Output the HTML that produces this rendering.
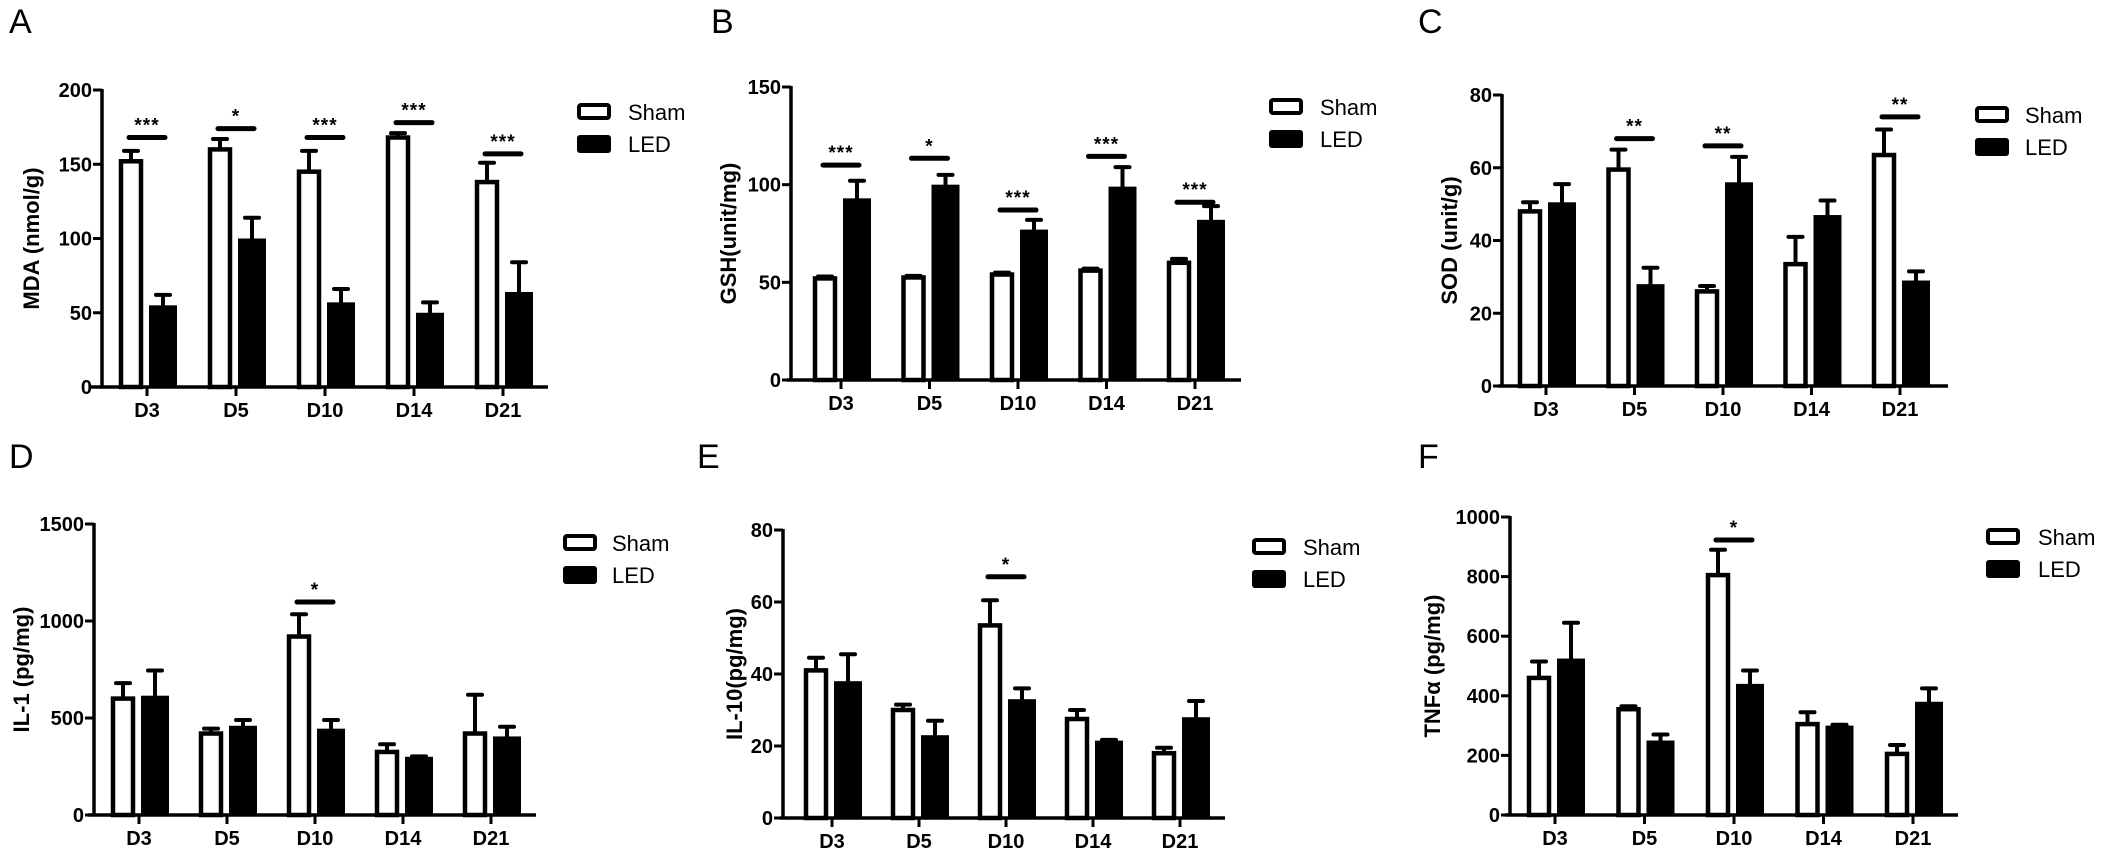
<!DOCTYPE html>
<html><head><meta charset="utf-8"><style>
html,body{margin:0;padding:0;background:#fff;}
svg{display:block;}
text{font-family:"Liberation Sans Narrow","Liberation Sans",sans-serif;fill:#000;}
.tk{font-size:20px;font-weight:bold;}
.yt{font-family:"Liberation Sans",sans-serif;font-size:22px;font-weight:bold;}
.lg{font-size:22px;}
.pl{font-family:"Liberation Sans",sans-serif;font-size:34px;}
.st{font-family:"Liberation Sans",sans-serif;font-size:19px;font-weight:bold;}
</style></head><body>
<svg id="fig" width="2105" height="853" viewBox="0 0 2105 853" xmlns="http://www.w3.org/2000/svg"></svg>
<script>
var categories=["D3","D5","D10","D14","D21"];
// Panel A MDA
var aSham=[152,160,145,168,138], aShamErr=[7,7,14,3,13];
var aLed=[55,100,57,50,64], aLedErr=[7,14,9,7,20];
var aTicks=[0,50,100,150,200];
var aSig=[{i:0,v:168,t:"***"},{i:1,v:174,t:"*"},{i:2,v:168,t:"***"},{i:3,v:178,t:"***"},{i:4,v:157,t:"***"}];
// Panel B GSH
var bSham=[52,52.5,54,56,60], bShamErr=[1,0.8,1,1,2];
var bLed=[93,100,77,99,82], bLedErr=[9,5,5,10,7];
var bTicks=[0,50,100,150];
var bSig=[{i:0,v:110,t:"***"},{i:1,v:113.5,t:"*"},{i:2,v:87,t:"***"},{i:3,v:114.5,t:"***"},{i:4,v:91,t:"***"}];
// Panel C SOD
var cSham=[48,59.5,26,33.5,63.5], cShamErr=[2.5,5.5,1.5,7.5,7];
var cLed=[50.5,28,56,47,29], cLedErr=[5,4.5,7,4,2.5];
var cTicks=[0,20,40,60,80];
var cSig=[{i:1,v:68,t:"**"},{i:2,v:66,t:"**"},{i:4,v:74,t:"**"}];
// Panel D IL-1
var dSham=[600,420,920,325,420], dShamErr=[80,25,115,40,200];
var dLed=[615,460,445,300,405], dLedErr=[130,30,45,2,50];
var dTicks=[0,500,1000,1500];
var dSig=[{i:2,v:1098,t:"*"}];
// Panel E IL-10
var eSham=[41,30,53.5,27.5,18], eShamErr=[3.5,1.5,7,2.5,1.5];
var eLed=[38,23,33,21.5,28], eLedErr=[7.5,4,3,0.2,4.5];
var eTicks=[0,20,40,60,80];
var eSig=[{i:2,v:67,t:"*"}];
// Panel F TNFa
var fSham=[460,355,805,305,205], fShamErr=[55,10,85,40,30];
var fLed=[525,250,440,300,380], fLedErr=[120,20,45,3,45];
var fTicks=[0,200,400,600,800,1000];
var fSig=[{i:2,v:923,t:"*"}];

var NS="http://www.w3.org/2000/svg";
var svg=document.getElementById('fig');
function mk(tag,attrs,parent,txt){var e=document.createElementNS(NS,tag);for(var k in attrs)e.setAttribute(k,attrs[k]);if(txt!==undefined)e.textContent=txt;(parent||svg).appendChild(e);return e;}

var panels=[
 {id:"a",letter:"A",lx:9,ly:33,ax:102,x0:90,x1:548,yTop:90,yBot:387,max:200,t0:147,dx:89,sham:aSham,se:aShamErr,led:aLed,le:aLedErr,ticks:aTicks,sig:aSig,title:"MDA (nmol/g)",tx:32,leg:[577,103,628]},
 {id:"b",letter:"B",lx:711,ly:33,ax:791,x0:787,x1:1241,yTop:87,yBot:380,max:150,t0:841,dx:88.5,sham:bSham,se:bShamErr,led:bLed,le:bLedErr,ticks:bTicks,sig:bSig,title:"GSH(unit/mg)",tx:729,leg:[1269,98,1320]},
 {id:"c",letter:"C",lx:1418,ly:33,ax:1502,x0:1498,x1:1948,yTop:95,yBot:386,max:80,t0:1546,dx:88.5,sham:cSham,se:cShamErr,led:cLed,le:cLedErr,ticks:cTicks,sig:cSig,title:"SOD (unit/g)",tx:1450,leg:[1975,106,2025]},
 {id:"d",letter:"D",lx:9,ly:468,ax:94,x0:88,x1:536,yTop:524,yBot:815,max:1500,t0:139,dx:88,sham:dSham,se:dShamErr,led:dLed,le:dLedErr,ticks:dTicks,sig:dSig,title:"IL-1 (pg/mg)",tx:22,leg:[563,534,612]},
 {id:"e",letter:"E",lx:697,ly:468,ax:783,x0:780,x1:1225,yTop:530,yBot:818,max:80,t0:832,dx:87,sham:eSham,se:eShamErr,led:eLed,le:eLedErr,ticks:eTicks,sig:eSig,title:"IL-10(pg/mg)",tx:735,leg:[1252,538,1303]},
 {id:"f",letter:"F",lx:1418,ly:468,ax:1510,x0:1505,x1:1958,yTop:517,yBot:815,max:1000,t0:1555,dx:89.5,sham:fSham,se:fShamErr,led:fLed,le:fLedErr,ticks:fTicks,sig:fSig,title:"TNF\u03b1 (pg/mg)",tx:1433,leg:[1986,528,2038]}
];

panels.forEach(function(p){
  var g=mk('g',{});
  
  
  function y(v){return p.yBot-(v/p.max)*(p.yBot-p.yTop);}
  function cx(i){return p.t0+i*p.dx;}
  var L=mk('text',{x:p.lx,y:p.ly,'class':'pl'},g,p.letter);
  
  
  for(var i=0;i<categories.length;i++){
    var c=cx(i);
    var ys=y(p.sham[i]), yl=y(p.led[i]);
    var ye=y(p.sham[i]+p.se[i]);
    var e1=mk('path',{d:'M'+(c-16)+' '+ys+'V'+ye+'M'+(c-23)+' '+ye+'H'+(c-9),stroke:'#000','stroke-width':4,fill:'none','stroke-linecap':'round'},g);
    
    
    var yle=y(p.led[i]+p.le[i]);
    var e2=mk('path',{d:'M'+(c+16)+' '+yl+'V'+yle+'M'+(c+9)+' '+yle+'H'+(c+23),stroke:'#000','stroke-width':4,fill:'none','stroke-linecap':'round'},g);
    
    
    var r1=mk('rect',{x:c-26,y:ys,width:20,height:p.yBot-ys,fill:'#fff',stroke:'#000','stroke-width':4.5},g);
    
    
    var r2=mk('rect',{x:c+2,y:yl,width:28,height:p.yBot-yl,fill:'#000'},g);
    
    
  }
  var ya=mk('path',{d:'M'+p.ax+' '+(p.yTop-1)+'V'+p.yBot,stroke:'#000','stroke-width':3.5,fill:'none'},g);
  
  
  var xa=mk('path',{d:'M'+p.x0+' '+p.yBot+'H'+p.x1,stroke:'#000','stroke-width':3.5,fill:'none'},g);
  
  
  p.ticks.forEach(function(t){
    var yy=y(t);
    mk('path',{d:'M'+(p.ax-9)+' '+yy+'H'+p.ax,stroke:'#000','stroke-width':3},g);
    var tl=mk('text',{x:p.ax-10,y:yy+7,'text-anchor':'end','class':'tk'},g,String(t));
    
    
  });
  categories.forEach(function(cat,i){
    var c=cx(i);
    mk('path',{d:'M'+c+' '+p.yBot+'V'+(p.yBot+9),stroke:'#000','stroke-width':3},g);
    var cl=mk('text',{x:c,y:p.yBot+30,'text-anchor':'middle','class':'tk'},g,cat);
    
    
  });
  p.sig.forEach(function(s){
    var c=cx(s.i), yy=y(s.v);
    var sl=mk('path',{d:'M'+(c-18)+' '+yy+'H'+(c+18),stroke:'#000','stroke-width':5,'stroke-linecap':'round'},g);
    
    
    var st=mk('text',{x:c,y:yy-6,'text-anchor':'middle','class':'st','letter-spacing':'1'},g,s.t);
    
    
  });
  var my=(p.yTop+p.yBot)/2;
  var yt=mk('text',{x:p.tx,y:my,'text-anchor':'middle','class':'yt',transform:'rotate(-90 '+p.tx+' '+my+')',dy:'7'},g,p.title);
  
  
  var lx=p.leg[0], ly=p.leg[1], tx=p.leg[2];
  var lb1=mk('rect',{x:lx+2,y:ly+2,width:30,height:13,fill:'#fff',stroke:'#000','stroke-width':4,rx:2},g);
  
  
  var lt1=mk('text',{x:tx,y:ly+17,'class':'lg'},g,'Sham');
  
  
  var lb2=mk('rect',{x:lx,y:ly+32,width:34,height:18,fill:'#000',rx:3},g);
  
  
  var lt2=mk('text',{x:tx,y:ly+49,'class':'lg'},g,'LED');
  
  
});
</script>
</body></html>
